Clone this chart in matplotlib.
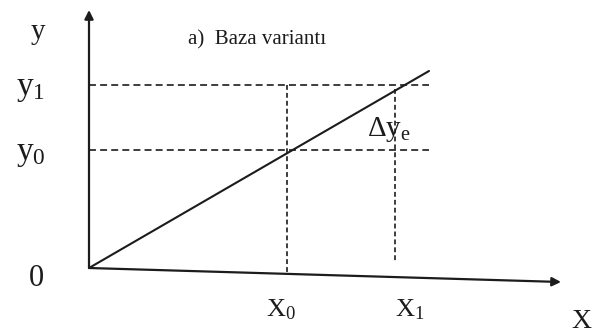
import matplotlib
matplotlib.use("Agg")
import matplotlib.pyplot as plt

# diagram values (arbitrary units, origin at 0,0)
line_x = [0, 340]
line_y = [0, 197]
x_marks = [198, 306]
x_mark_labels = [r"$\mathrm{X}_0$", r"$\mathrm{X}_1$"]
y_marks = [118, 183]
y_mark_labels = [r"$\mathrm{y}_0$", r"$\mathrm{y}_1$"]
axis_x_end = (472, -14)   # scanned page is slightly skewed
axis_y_end = (0, 258)

INK = "#1c1c1c"

plt.rcParams["font.family"] = ["Liberation Serif", "DejaVu Serif"]
plt.rcParams["mathtext.fontset"] = "custom"
plt.rcParams["mathtext.rm"] = "Liberation Serif"
plt.rcParams["mathtext.it"] = "Liberation Serif:italic"
plt.rcParams["lines.scale_dashes"] = False

fig = plt.figure(figsize=(5.94, 3.36), dpi=100)
ax = fig.add_axes([0, 0, 1, 1])
ax.set_xlim(-89, 505)
ax.set_ylim(-68, 268)
ax.axis("off")

# axes with arrows
ax.annotate("", xy=axis_y_end, xytext=(0, 0),
            arrowprops=dict(arrowstyle="-|>", lw=1.6, color=INK,
                            mutation_scale=13, shrinkA=0, shrinkB=0))
ax.annotate("", xy=axis_x_end, xytext=(0, 0),
            arrowprops=dict(arrowstyle="-|>", lw=1.6, color=INK,
                            mutation_scale=13, shrinkA=0, shrinkB=0))

# base line
ax.plot(line_x, line_y, color=INK, lw=1.5, solid_capstyle="round")

# horizontal guides
for ym in y_marks:
    ax.plot([0, line_x[1]], [ym, ym], color=INK, lw=1.2, dashes=(5, 3))

# vertical guides down to the (tilted) x axis
slope_axis = axis_x_end[1] / axis_x_end[0]
ax.plot([x_marks[0], x_marks[0]], [y_marks[1], x_marks[0] * slope_axis],
        color=INK, lw=1.2, dashes=(3.5, 2.2))
ax.plot([x_marks[1], x_marks[1]], [y_marks[1] - 4, 6],
        color=INK, lw=1.2, dashes=(3.5, 2.2))

# labels
ax.text(-51, 236, "y", fontsize=21, ha="center", va="center", color=INK)
for ym, lab in zip(y_marks, y_mark_labels):
    ax.text(-58, ym - 4, lab, fontsize=24, ha="center", va="center", color=INK)
ax.text(-53, -10, "0", fontsize=22, ha="center", va="center", color=INK)
ax.text(x_marks[0] - 6, -42, x_mark_labels[0], fontsize=19,
        ha="center", va="center", color=INK)
ax.text(x_marks[1] + 15, -42, x_mark_labels[1], fontsize=19,
        ha="center", va="center", color=INK)
ax.text(492, -54, "X", fontsize=20, ha="center", va="center", color=INK)
ax.text(99, 228, "a)  Baza variantı", fontsize=15, ha="left", va="center",
        color=INK)
ax.text(300, 138, r"$\Delta\mathrm{y}_\mathrm{e}$", fontsize=21,
        ha="center", va="center", color=INK)

fig.savefig("out.png", dpi=100, facecolor="white")
